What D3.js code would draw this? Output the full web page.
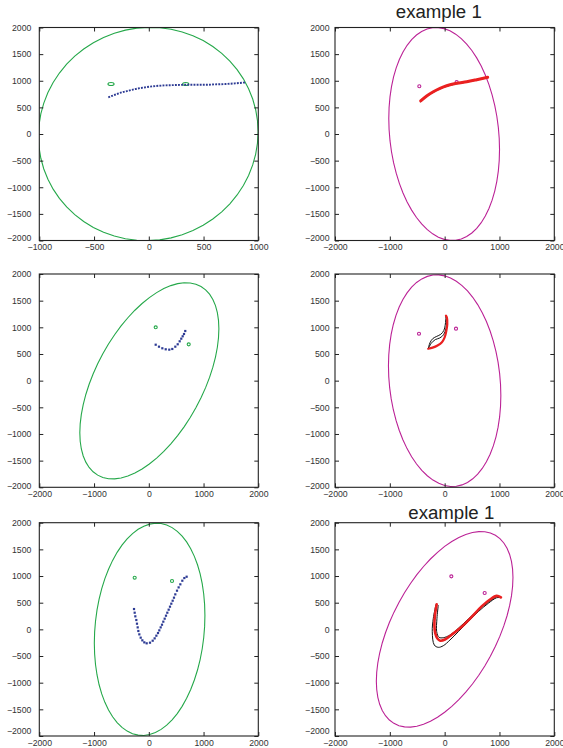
<!DOCTYPE html>
<html><head><meta charset="utf-8">
<script src="https://cdn.jsdelivr.net/npm/d3@7"></script>
<style>
body{margin:0;background:#fff}
svg{display:block}
text{font-family:"Liberation Sans",Arial,Helvetica,sans-serif}
</style>
</head><body>
<svg id="chart" width="563" height="748"></svg>
<script>
// ---------------- data ----------------
const xTicksNarrow = [-1000, -500, 0, 500, 1000];
const xTicksWide = [-2000, -1000, 0, 1000, 2000];
const yTicks = [-2000, -1500, -1000, -500, 0, 500, 1000, 1500, 2000];
const titleText = "example 1";

// ellipse: [cx, cy, halfExtentX, halfExtentY, correlation]
const ellipse1 = [-5, 0, 1003, 2003, 0.02];
const ellipse2 = [-9, 0, 1010, 2000, -0.146];
const ellipse3 = [10, -3, 1270, 1840, 0.53];
const ellipse4 = [0, 0, 1025, 1985, -0.14];
const ellipse5 = [15, 0, 1010, 1990, 0.13];
const ellipse6 = [0, 0, 1246, 1834, 0.53];

const ringRadius = 28;
const rings1 = [[-345, 938], [337, 938]];
const rings2 = [[-462, 896], [219, 977]];
const rings3 = [[126, 1000], [729, 681]];
const rings4 = [[-468, 881], [207, 975]];
const rings5 = [[-258, 969], [424, 906]];
const rings6 = [[122, 994], [730, 681]];

const blue1 = [[-370, 688], [-309, 737], [-248, 782], [-187, 812], [-126, 844], [-35, 876],
  [57, 900], [148, 913], [239, 919], [330, 924], [422, 924], [513, 924], [604, 932],
  [696, 938], [787, 951], [885, 969]];
const blue3 = [[126, 674], [186, 637], [247, 607], [309, 588], [374, 581], [429, 594],
  [484, 637], [528, 682], [564, 738], [593, 787], [619, 832], [643, 875], [666, 931]];
const blue5 = [[-270, 381], [-258, 312], [-246, 244], [-228, 175], [-216, 106], [-203, 37],
  [-191, -31], [-173, -94], [-148, -156], [-118, -206], [-82, -244], [-39, -262], [22, -250],
  [71, -213], [107, -169], [138, -119], [168, -69], [192, -19], [217, 37], [241, 87],
  [265, 144], [290, 200], [314, 256], [338, 312], [363, 369], [387, 425], [411, 481],
  [436, 537], [460, 594], [484, 656], [515, 725], [545, 787], [576, 844], [612, 912],
  [649, 962], [691, 987]];

const red2 = [[-437, 620], [-328, 714], [-207, 794], [-85, 858], [37, 907], [219, 952],
  [402, 982], [584, 1020], [785, 1065]];
const black2 = [[-445, 600], [-335, 697], [-212, 779], [-88, 845], [37, 896], [219, 942],
  [402, 974], [584, 1012], [785, 1058]];

const red4 = [[-299, 599], [-220, 620], [-130, 660], [-50, 720], [0, 810], [30, 930],
  [48, 1060], [42, 1180], [24, 1218]];
const black4a = [[-299, 599], [-268, 710], [-215, 790], [-145, 830], [-70, 870], [-15, 940],
  [10, 1040], [20, 1140], [24, 1218]];
const black4b = [[-299, 599], [-245, 700], [-170, 770], [-90, 800], [-20, 860], [25, 980],
  [40, 1110], [24, 1218]];

const red6 = [[-145, 469], [-176, 269], [-187, 81], [-172, -70], [-132, -170], [-80, -212],
  [6, -190], [128, -100], [311, 50], [493, 235], [675, 430], [827, 560], [949, 628], [1027, 600]];
const black6a = [[-158, 469], [-207, 207], [-226, -44], [-189, -294], [-116, -337], [-25, -307],
  [97, -200], [249, -44], [431, 143], [613, 331], [796, 488], [949, 593], [1027, 593]];
const black6b = [[-116, 456], [-140, 207], [-145, -44], [-103, -149], [-25, -157], [97, -106],
  [249, 19], [431, 194], [613, 362], [796, 507], [949, 612]];

// ---------------- layout / style ----------------
const GREEN = "#25a84a", MAGENTA = "#bb2296", RED = "#ea2020", BLUE = "#2d3b94", BLACK = "#111";

const panels = [
  {x0: 39.3, x1: 258.3, y0: 27.5, y1: 240.5, xd: [-1000, 1000], xt: xTicksNarrow, lab: 8, low: -3,
   ell: ellipse1, ellColor: GREEN, rings: rings1, ringColor: GREEN, blueLine: blue1},
  {x0: 335, x1: 554.3, y0: 27.5, y1: 240.5, xd: [-2000, 2000], xt: xTicksWide, lab: 5.5, low: -2.7,
   ell: ellipse2, ellColor: MAGENTA, rings: rings2, ringColor: MAGENTA, blacks: [black2], red: red2, redW: 3,
   title: {x: 438.8, y: 18}},
  {x0: 39.3, x1: 258.3, y0: 274, y1: 487.3, xd: [-2000, 2000], xt: xTicksWide, lab: 8, low: -1.3,
   ell: ellipse3, ellColor: GREEN, rings: rings3, ringColor: GREEN, blueDots: blue3},
  {x0: 335, x1: 554.3, y0: 274, y1: 487.3, xd: [-2000, 2000], xt: xTicksWide, lab: 5.5, low: -1.3,
   ell: ellipse4, ellColor: MAGENTA, rings: rings4, ringColor: MAGENTA, blacks: [black4a, black4b], red: red4, redW: 2.2},
  {x0: 39.3, x1: 258.3, y0: 522.7, y1: 736, xd: [-2000, 2000], xt: xTicksWide, lab: 8, low: -5,
   ell: ellipse5, ellColor: GREEN, rings: rings5, ringColor: GREEN, blueDots: blue5},
  {x0: 335, x1: 554.3, y0: 522.7, y1: 736, xd: [-2000, 2000], xt: xTicksWide, lab: 5.5, low: -5,
   ell: ellipse6, ellColor: MAGENTA, rings: rings6, ringColor: MAGENTA, blacks: [black6a, black6b], red: red6, redW: 2.6,
   title: {x: 451.3, y: 518.5}}
];

const svg = d3.select("#chart");
const FS = 8.7;

panels.forEach((p, i) => {
  const x = d3.scaleLinear().domain(p.xd).range([p.x0, p.x1]);
  const y = d3.scaleLinear().domain([-2000, 2000]).range([p.y1, p.y0]);
  const g = svg.append("g");

  const clipId = "clip" + i;
  g.append("clipPath").attr("id", clipId).append("rect")
    .attr("x", p.x0).attr("y", p.y0).attr("width", p.x1 - p.x0).attr("height", p.y1 - p.y0);
  const plot = g.append("g").attr("clip-path", `url(#${clipId})`);

  // ellipse from its parameters
  const [cx, cy, sx, sy, rho] = p.ell;
  const ts = d3.range(0, 61).map(k => k / 60 * 2 * Math.PI);
  const ellPts = ts.map(t => [cx + sx * Math.cos(t), cy + sy * (rho * Math.cos(t) + Math.sqrt(1 - rho * rho) * Math.sin(t))]);
  const lin = d3.line().x(d => x(d[0])).y(d => y(d[1]));
  plot.append("path").attr("d", lin(ellPts)).attr("fill", "none")
    .attr("stroke", p.ellColor).attr("stroke-width", 1.1);

  // small rings
  plot.selectAll(".ring").data(p.rings).join("ellipse")
    .attr("cx", d => x(d[0])).attr("cy", d => y(d[1]))
    .attr("rx", x(ringRadius) - x(0)).attr("ry", y(0) - y(ringRadius))
    .attr("fill", "none").attr("stroke", p.ringColor).attr("stroke-width", 1.1);

  if (p.blueLine) {
    plot.append("path")
      .attr("d", d3.line().x(d => x(d[0])).y(d => y(d[1])).curve(d3.curveMonotoneX)(p.blueLine))
      .attr("fill", "none").attr("stroke", BLUE).attr("stroke-width", 1.9)
      .attr("stroke-dasharray", "1.9,1.2");
  }
  if (p.blueDots) {
    plot.selectAll(".dot").data(p.blueDots).join("rect")
      .attr("x", d => x(d[0]) - 1.1).attr("y", d => y(d[1]) - 1.1)
      .attr("width", 2.2).attr("height", 2.2).attr("fill", BLUE);
  }
  const smooth = d3.line().x(d => x(d[0])).y(d => y(d[1])).curve(d3.curveCatmullRom.alpha(0.5));
  if (p.blacks) {
    p.blacks.forEach(b => plot.append("path").attr("d", smooth(b)).attr("fill", "none")
      .attr("stroke", BLACK).attr("stroke-width", 1));
  }
  if (p.red) {
    plot.append("path").attr("d", smooth(p.red)).attr("fill", "none")
      .attr("stroke", RED).attr("stroke-width", p.redW).attr("stroke-linecap", "round");
  }

  // axes with inward, mirrored ticks
  const tickLen = 4;
  const styleAxis = sel => {
    sel.select(".domain").remove();
    sel.selectAll("line").attr("stroke", "#222");
    sel.selectAll("text").attr("fill", "#333").style("font-size", FS + "px")
      .style("font-family", '"Liberation Sans", Arial, sans-serif');
  };
  const gl = g.append("g").attr("transform", `translate(${p.x0},0)`)
    .call(d3.axisLeft(y).tickValues(yTicks).tickSizeInner(-tickLen).tickSizeOuter(0).tickPadding(p.lab).tickFormat(d3.format("d")))
    .call(styleAxis);
  gl.selectAll(".tick").filter(d => d === -2000).select("text").attr("dy", (0.32 * FS + p.low) + "px");
  g.append("g").attr("transform", `translate(${p.x1},0)`)
    .call(d3.axisRight(y).tickValues(yTicks).tickSizeInner(-tickLen).tickSizeOuter(0).tickFormat(""))
    .call(styleAxis);
  g.append("g").attr("transform", `translate(0,${p.y1})`)
    .call(d3.axisBottom(x).tickValues(p.xt).tickSizeInner(-tickLen).tickSizeOuter(0).tickPadding(3.5).tickFormat(d3.format("d")))
    .call(styleAxis);
  g.append("g").attr("transform", `translate(0,${p.y0})`)
    .call(d3.axisTop(x).tickValues(p.xt).tickSizeInner(-tickLen).tickSizeOuter(0).tickFormat(""))
    .call(styleAxis);

  g.append("rect").attr("x", p.x0).attr("y", p.y0).attr("width", p.x1 - p.x0).attr("height", p.y1 - p.y0)
    .attr("fill", "none").attr("stroke", "#222").attr("stroke-width", 1.1);

  if (p.title) {
    g.append("text").attr("x", p.title.x).attr("y", p.title.y).attr("text-anchor", "middle")
      .style("font-size", "18px").attr("fill", "#222")
      .attr("textLength", 86).attr("lengthAdjust", "spacingAndGlyphs")
      .text(titleText);
  }
});
</script>
</body></html>
